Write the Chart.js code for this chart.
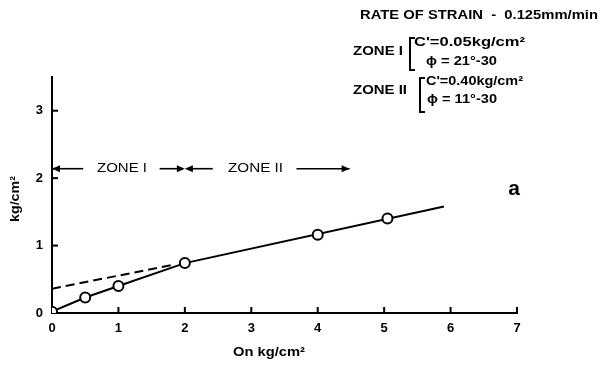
<!DOCTYPE html>
<html>
<head>
<meta charset="utf-8">
<script src="https://cdn.jsdelivr.net/npm/chart.js@4.4.0/dist/chart.umd.min.js"></script>
<style>
  html, body { margin: 0; padding: 0; background: #fff; }
  #wrap { width: 608px; height: 368px; position: relative; }
</style>
</head>
<body>
<div id="wrap"><canvas id="chart"></canvas></div>
<script>
// axis ticks
const xTicks = [0, 1, 2, 3, 4, 5, 6, 7];
const yTicks = [0, 1, 2, 3];

// measured points (normal stress vs shear strength)
const normalStress = [0, 0.5, 1, 2, 4, 5.05];
const shearStrength = [0.02, 0.23, 0.4, 0.74, 1.16, 1.4];

// failure envelope drawn through the points
const envelopeX = [0, 0.5, 1, 2, 5.9];
const envelopeY = [0.02, 0.23, 0.4, 0.74, 1.58];

// zone II envelope extended back to the axis (dashed)
const zoneTwoX = [0, 1.85];
const zoneTwoY = [0.36, 0.72];

const FONT = "'Liberation Sans', Arial, sans-serif";

const toPoints = (xs, ys) => xs.map((x, i) => ({ x, y: ys[i] }));

// draw text squeezed/stretched to a given width (scanned lettering is wide)
const fitText = (ctx, text, left, mid, width, font) => {
  ctx.save();
  ctx.font = font;
  ctx.textBaseline = "middle";
  ctx.textAlign = "left";
  const w = ctx.measureText(text).width;
  ctx.translate(left, mid);
  ctx.scale(width / w, 1);
  ctx.fillText(text, 0, 0);
  ctx.restore();
};

const arrowHead = (ctx, tipX, y, dir) => {
  ctx.beginPath();
  ctx.moveTo(tipX, y);
  ctx.lineTo(tipX - dir * 8, y - 3.5);
  ctx.lineTo(tipX - dir * 8, y + 3.5);
  ctx.closePath();
  ctx.fill();
};

const bracket = (ctx, x, top, bottom) => {
  ctx.beginPath();
  ctx.moveTo(x + 5, top);
  ctx.lineTo(x, top);
  ctx.lineTo(x, bottom);
  ctx.lineTo(x + 5, bottom);
  ctx.stroke();
};

const decorations = {
  id: "decorations",
  afterDraw(chart) {
    const { ctx, chartArea } = chart;
    const xs = chart.scales.x;
    const ys = chart.scales.y;
    ctx.save();
    ctx.strokeStyle = "#000";
    ctx.fillStyle = "#000";
    ctx.lineWidth = 2;

    // inward ticks
    xTicks.filter((v) => v > 0).forEach((v) => {
      const px = xs.getPixelForValue(v);
      ctx.beginPath();
      ctx.moveTo(px, chartArea.bottom);
      ctx.lineTo(px, chartArea.bottom - 6);
      ctx.stroke();
    });
    yTicks.filter((v) => v > 0).forEach((v) => {
      const py = ys.getPixelForValue(v);
      ctx.beginPath();
      ctx.moveTo(chartArea.left, py);
      ctx.lineTo(chartArea.left + 6, py);
      ctx.stroke();
    });

    // axis titles
    fitText(ctx, "On kg/cm²", 233, 352, 72, `bold 13px ${FONT}`);
    ctx.save();
    ctx.translate(15, 199);
    ctx.rotate(-Math.PI / 2);
    fitText(ctx, "kg/cm²", -23, 0, 46, `bold 13px ${FONT}`);
    ctx.restore();

    // zone arrows
    const ay = ys.getPixelForValue(2.14);
    const px = (v) => xs.getPixelForValue(v);
    ctx.lineWidth = 1.6;
    [[0, 0.47], [1.62, 1.93], [2.07, 2.42], [3.68, 4.48]].forEach(([a, b]) => {
      ctx.beginPath();
      ctx.moveTo(px(a), ay);
      ctx.lineTo(px(b), ay);
      ctx.stroke();
    });
    arrowHead(ctx, px(0), ay, -1);
    arrowHead(ctx, px(2), ay, 1);
    arrowHead(ctx, px(2), ay, -1);
    arrowHead(ctx, px(4.48), ay, 1);
    fitText(ctx, "ZONE I", 97, ay, 50, `13px ${FONT}`);
    fitText(ctx, "ZONE II", 228, ay, 55, `13px ${FONT}`);

    // panel letter
    ctx.font = `bold 21px ${FONT}`;
    ctx.textAlign = "center";
    ctx.textBaseline = "middle";
    ctx.fillText("a", 514, 189);

    // legend block
    fitText(ctx, "RATE OF STRAIN  -  0.125mm/min", 360, 15, 238, `bold 13px ${FONT}`);
    fitText(ctx, "ZONE I", 353, 52, 50, `bold 12px ${FONT}`);
    fitText(ctx, "ZONE II", 353, 91, 54, `bold 12px ${FONT}`);
    ctx.lineWidth = 2;
    bracket(ctx, 410, 38, 70);
    bracket(ctx, 420, 78, 112);
    fitText(ctx, "C'=0.05kg/cm²", 414, 43, 111, `bold 12px ${FONT}`);
    fitText(ctx, "ϕ = 21°-30", 426, 62, 71, `bold 12px ${FONT}`);
    fitText(ctx, "C'=0.40kg/cm²", 426, 82, 97, `bold 12px ${FONT}`);
    fitText(ctx, "ϕ = 11°-30", 427, 100, 70, `bold 12px ${FONT}`);
    ctx.restore();
  }
};

new Chart(document.getElementById("chart").getContext("2d"), {
  type: "scatter",
  data: {
    datasets: [
      {
        label: "Measured",
        data: toPoints(normalStress, shearStrength),
        showLine: false,
        pointRadius: 5,
        pointBorderWidth: 2,
        pointBackgroundColor: "#fff",
        pointBorderColor: "#000",
        order: 0
      },
      {
        label: "Envelope",
        data: toPoints(envelopeX, envelopeY),
        showLine: true,
        borderColor: "#000",
        borderWidth: 2,
        pointRadius: 0,
        order: 1
      },
      {
        label: "Zone II extension",
        data: toPoints(zoneTwoX, zoneTwoY),
        showLine: true,
        borderColor: "#000",
        borderWidth: 2,
        borderDash: [9, 5],
        pointRadius: 0,
        order: 2
      }
    ]
  },
  options: {
    responsive: true,
    maintainAspectRatio: false,
    animation: false,
    layout: { padding: { top: 77, right: 91, bottom: 0, left: 0 } },
    plugins: {
      legend: { display: false },
      tooltip: { enabled: false }
    },
    scales: {
      x: {
        type: "linear",
        min: 0,
        max: 7,
        afterBuildTicks: (s) => { s.ticks = xTicks.map((value) => ({ value })); },
        afterFit: (s) => { s.height = 55; },
        grid: { display: false, drawTicks: false },
        border: { display: true, color: "#000", width: 2 },
        ticks: {
          color: "#000",
          padding: 8,
          maxRotation: 0,
          font: { family: FONT, size: 13, weight: "bold" }
        }
      },
      y: {
        min: 0,
        max: 3.5,
        afterBuildTicks: (s) => { s.ticks = yTicks.map((value) => ({ value })); },
        afterFit: (s) => { s.width = 52; },
        grid: { display: false, drawTicks: false },
        border: { display: true, color: "#000", width: 2 },
        ticks: {
          color: "#000",
          padding: 9,
          font: { family: FONT, size: 13, weight: "bold" }
        }
      }
    }
  },
  plugins: [decorations]
});
</script>
</body>
</html>
